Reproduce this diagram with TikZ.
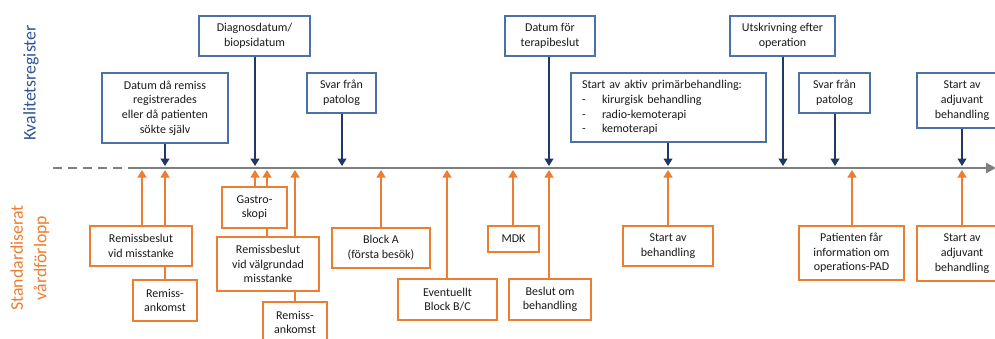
\documentclass[tikz,border=0pt]{standalone}
\usepackage{fontspec}
\setmainfont{Carlito}
\usetikzlibrary{arrows.meta}
\definecolor{kblue}{HTML}{2F5597}
\definecolor{bblue}{HTML}{4A72A8}
\definecolor{ablue}{HTML}{203864}
\definecolor{korange}{HTML}{ED7D31}
\definecolor{tline}{HTML}{7F7F7F}
\definecolor{txt}{HTML}{1A1A1A}
\begin{document}
\begin{tikzpicture}[x=1pt,y=-1pt,
  every node/.style={font=\fontsize{12}{14.7}\selectfont, text=txt},
  bbox/.style={draw=bblue, line width=1.3pt, fill=white, align=center, inner sep=0pt},
  obox/.style={draw=korange, line width=1.3pt, fill=white, align=center, inner sep=0pt},
  barr/.style={draw=ablue, line width=1.2pt, -{Triangle[width=9pt,length=7.5pt]}},
  oarr/.style={draw=korange, line width=1.2pt, -{Triangle[width=9pt,length=7.5pt]}},
  lbl/.style={rotate=90, font=\fontsize{17.8}{23.5}\selectfont, align=center}
]
\useasboundingbox (0,0) rectangle (995,338);
\clip (0,0) rectangle (995,338);
\fill[white] (0,0) rectangle (995,338);

% side labels
\node[lbl, text=kblue] (kval) at (31,83) {Kvalitetsregister};
\node[lbl, text=korange] (svf) at (30,258) {Standardiserat\\vårdförlopp};

% timeline
\coordinate (ts) at (53,168);
\coordinate (tm) at (132,168);
\coordinate (te) at (996,168);
\draw[tline, line width=2.8pt, dash pattern=on 9pt off 6pt] (ts) -- (tm);
\draw[tline, line width=2.8pt, -{Triangle[width=10pt,length=10pt]}] (tm) -- (te);

% blue boxes
\node[bbox, minimum width=126pt, minimum height=70pt] (b1) at (165,108) {Datum då remiss\\registrerades\\eller då patienten\\sökte själv};
\node[bbox, minimum width=111pt, minimum height=40pt] (b2) at (254.5,36) {Diagnosdatum/\\biopsidatum};
\node[bbox, minimum width=69pt, minimum height=40pt] (b3) at (341.5,93) {Svar från\\patolog};
\node[bbox, minimum width=90pt, minimum height=40pt] (b4) at (550,36) {Datum för\\terapibeslut};
\node[bbox, minimum width=195pt, minimum height=69pt, align=left, text width=173pt, inner xsep=11pt] (b5) at (668.5,107.5)
  {Start av aktiv primärbehandling:\\\makebox[20pt][l]{-}kirurgisk behandling\\\makebox[20pt][l]{-}radio-kemoterapi\\\makebox[20pt][l]{-}kemoterapi};
\node[bbox, minimum width=105pt, minimum height=40pt] (b6) at (782.5,36) {Utskrivning efter\\operation};
\node[bbox, minimum width=71pt, minimum height=40pt] (b7) at (834.5,93) {Svar från\\patolog};
\node[bbox, minimum width=90pt, minimum height=55pt] (b8) at (962,100.5) {Start av\\adjuvant\\behandling};

% blue arrow targets
\coordinate (tb1) at (165,166);
\coordinate (tb2) at (255,166);
\coordinate (tb3) at (342,166);
\coordinate (tb4) at (549,166);
\coordinate (tb5) at (668,166);
\coordinate (tb6) at (783,166);
\coordinate (tb7) at (835,166);
\coordinate (tb8) at (962,166);
\draw[barr] (b1.south -| tb1) -- (tb1);
\draw[barr] (b2.south -| tb2) -- (tb2);
\draw[barr] (b3.south -| tb3) -- (tb3);
\draw[barr] (b4.south -| tb4) -- (tb4);
\draw[barr] (b5.south -| tb5) -- (tb5);
\draw[barr] (b6.south -| tb6) -- (tb6);
\draw[barr] (b7.south -| tb7) -- (tb7);
\draw[barr] (b8.south -| tb8) -- (tb8);

% orange arrow targets
\coordinate (to1) at (142,170);
\coordinate (to2) at (165,170);
\coordinate (to3) at (255,170);
\coordinate (to4) at (267,170);
\coordinate (to5) at (295,170);
\coordinate (to6) at (381,170);
\coordinate (to7) at (447,170);
\coordinate (to8) at (513,170);
\coordinate (to9) at (549,170);
\coordinate (to10) at (668,170);
\coordinate (to11) at (852,170);
\coordinate (to12) at (962,170);

% orange boxes
\node[obox, minimum width=102pt, minimum height=40pt] (o1) at (141,246) {Remissbeslut\\vid misstanke};
\node[obox, minimum width=64pt, minimum height=41pt] (o2) at (165,300.5) {Remiss-\\ankomst};
\node[obox, minimum width=102pt, minimum height=54pt] (o4) at (268,264) {Remissbeslut\\vid välgrundad\\misstanke};
\node[obox, minimum width=65pt, minimum height=41pt] (o3) at (254.5,207.5) {Gastro-\\skopi};
\node[obox, minimum width=64pt, minimum height=41pt] (o5) at (295,322.5) {Remiss-\\ankomst};
\node[obox, minimum width=98pt, minimum height=40pt] (o6) at (381,248) {Block A\\(första besök)};
\node[obox, minimum width=99pt, minimum height=41pt] (o7) at (447.5,299.5) {Eventuellt\\Block B/C};
\node[obox, minimum width=51pt, minimum height=26pt] (o8) at (513.5,239) {MDK};
\node[obox, minimum width=82pt, minimum height=41pt] (o9) at (550,299.5) {Beslut om\\behandling};
\node[obox, minimum width=90pt, minimum height=40pt] (o10) at (668,246) {Start av\\behandling};
\node[obox, minimum width=105pt, minimum height=54pt] (o11) at (851.5,253) {Patienten får\\information om\\operations-PAD};
\node[obox, minimum width=90pt, minimum height=55pt] (o12) at (962,253.5) {Start av\\adjuvant\\behandling};

% visible connector segments between stacked boxes
\draw[korange, line width=1.2pt] (o2.north) -- (o1.south -| o2.north);
\draw[korange, line width=1.2pt] (o4.north -| to4) -- (o3.south -| to4);
\draw[korange, line width=1.2pt] (o5.north) -- (o4.south -| o5.north);

\draw[oarr] (o1.north -| to1) -- (to1);
\draw[oarr] (o1.north -| to2) -- (to2);
\draw[oarr] (o3.north -| to3) -- (to3);
\draw[oarr] (o3.north -| to4) -- (to4);
\draw[oarr] (o4.north -| to5) -- (to5);
\draw[oarr] (o6.north -| to6) -- (to6);
\draw[oarr] (o7.north -| to7) -- (to7);
\draw[oarr] (o8.north -| to8) -- (to8);
\draw[oarr] (o9.north -| to9) -- (to9);
\draw[oarr] (o10.north -| to10) -- (to10);
\draw[oarr] (o11.north -| to11) -- (to11);
\draw[oarr] (o12.north -| to12) -- (to12);
\end{tikzpicture}
\end{document}
